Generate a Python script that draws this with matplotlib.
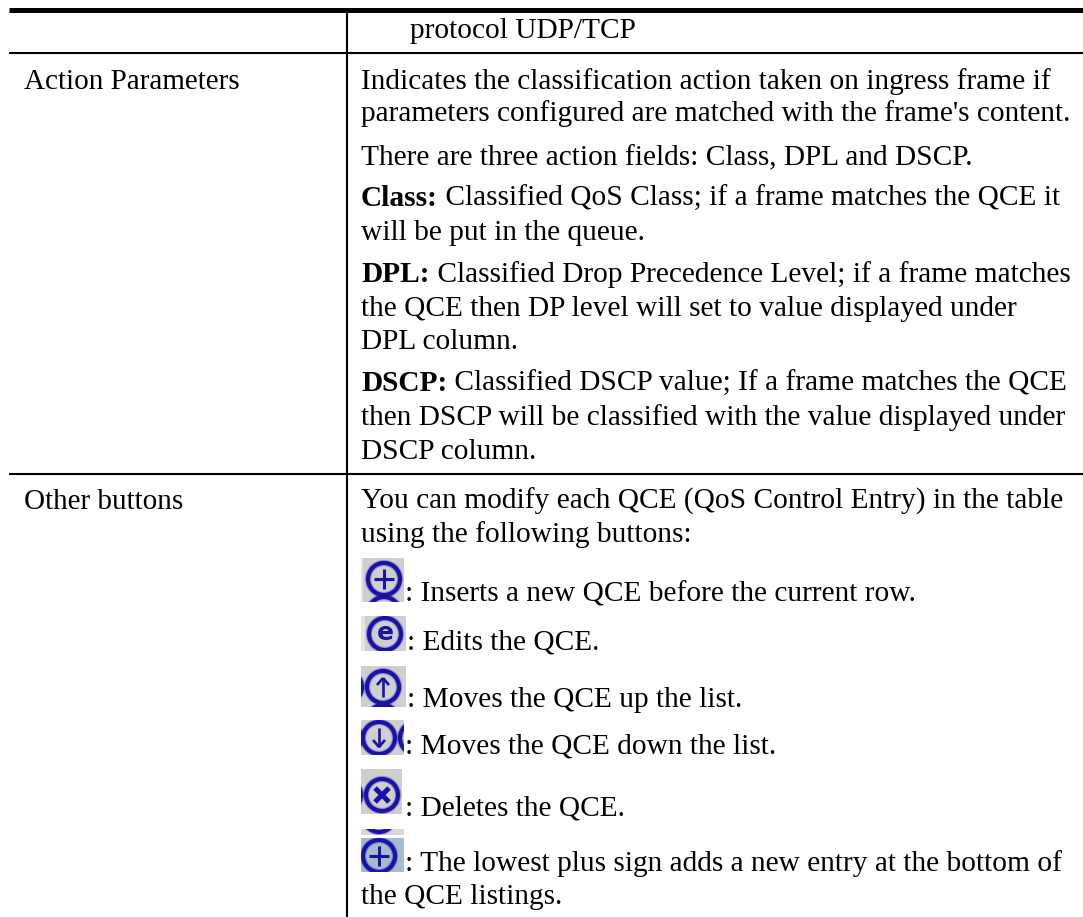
"""Table page recreated as text, rules and small button icons."""

from matplotlib import pyplot as plt
from matplotlib.patches import Circle, Rectangle

WIDTH = 1083
HEIGHT = 917
FONT = "Liberation Serif"
LEFT_SIZE = 21
SIZE = 21.2
TEXT_X = 361
BLUE = "#1a12a8"
GREY = "#cfcfcf"

left_labels = ["Action Parameters", "Other buttons"]
left_y = [89, 509]

plain_lines = [
    ("protocol UDP/TCP", 410, 38),
    ("Indicates the classification action taken on ingress frame if", TEXT_X, 89),
    ("parameters configured are matched with the frame's content.", TEXT_X, 121),
    ("There are three action fields: Class, DPL and DSCP.", TEXT_X, 165),
    ("will be put in the queue.", TEXT_X, 240),
    ("the QCE then DP level will set to value displayed under", TEXT_X, 316),
    ("DPL column.", TEXT_X, 349),
    ("then DSCP will be classified with the value displayed under", TEXT_X, 425),
    ("DSCP column.", TEXT_X, 459),
    ("You can modify each QCE (QoS Control Entry) in the table", TEXT_X, 509),
    ("using the following buttons:", TEXT_X, 542),
    (": Inserts a new QCE before the current row.", 405, 602),
    (": Edits the QCE.", 407, 650),
    (": Moves the QCE up the list.", 407, 707),
    (": Moves the QCE down the list.", 405, 754),
    (": Deletes the QCE.", 405, 815),
    (": The lowest plus sign adds a new entry at the bottom of", 405, 871),
    ("the QCE listings.", TEXT_X, 904),
]
bold_lines = [
    ("Class:", " Classified QoS Class; if a frame matches the QCE it", 206),
    ("DPL:", " Classified Drop Precedence Level; if a frame matches", 282),
    ("DSCP:", " Classified DSCP value; If a frame matches the QCE", 391),
]

# x0, y0, x1, y1, background, circle x, circle y, symbol
icons = [
    (361, 558, 404, 602, GREY, 384, 579, "plus"),
    (361, 616, 406, 651, GREY, 385, 634, "e"),
    (361, 666, 406, 707, GREY, 383, 687, "up"),
    (361, 720, 404, 755, GREY, 379, 738, "down"),
    (361, 769, 402, 814, GREY, 382, 795, "cross"),
    (361, 838, 404, 872, "#a5bccd", 379, 856, "plus"),
]
# extra pieces of neighbouring circles that the crops of the icons keep
icon_arcs = [
    (0, 384, 613),
    (2, 383, 721),
    (2, 346, 687),
    (3, 345, 738),
    (3, 416, 738),
    (4, 345, 795),
]


def draw_ring(ax, cx, cy, clip):
    for width, alpha in ((4.6, 0.3), (3.0, 1.0)):
        ring = Circle((cx, cy), 16, facecolor="none", edgecolor=BLUE, lw=width, alpha=alpha)
        ax.add_patch(ring)
        ring.set_clip_path(clip)


def draw_symbol(ax, kind, cx, cy, clip):
    if kind == "e":
        ax.text(cx, cy - 1, "e", family="DejaVu Sans", weight="bold", fontsize=18,
                color=BLUE, ha="center", va="center")
        return
    if kind == "plus":
        segments = [((cx - 10, cy), (cx + 10, cy)), ((cx, cy - 10), (cx, cy + 10))]
        width = 2.2
    elif kind == "cross":
        segments = [((cx - 7, cy - 7), (cx + 7, cy + 7)), ((cx - 7, cy + 7), (cx + 7, cy - 7))]
        width = 3.6
    elif kind == "up":
        segments = [((cx, cy - 9), (cx, cy + 10)), ((cx - 6, cy - 2), (cx, cy - 9)), ((cx + 6, cy - 2), (cx, cy - 9))]
        width = 1.9
    else:
        segments = [((cx, cy - 10), (cx, cy + 9)), ((cx - 6, cy + 2), (cx, cy + 9)), ((cx + 6, cy + 2), (cx, cy + 9))]
        width = 1.9
    for start, end in segments:
        line, = ax.plot([start[0], end[0]], [start[1], end[1]], color=BLUE, lw=width,
                        solid_capstyle="butt")
        line.set_clip_path(clip)


fig = plt.figure(figsize=(WIDTH / 100, HEIGHT / 100), dpi=100)
ax = fig.add_axes((0, 0, 1, 1))
ax.set_xlim(0, WIDTH)
ax.set_ylim(HEIGHT, 0)
ax.axis("off")

ax.plot([9, 1083], [9.5, 9.5], color="black", lw=3.6, solid_capstyle="butt")
ax.plot([9, 1083], [52.5, 52.5], color="black", lw=1.5, solid_capstyle="butt")
ax.plot([9, 1083], [474, 474], color="black", lw=1.5, solid_capstyle="butt")
ax.plot([347, 347], [9, 917], color="black", lw=1.5, solid_capstyle="butt")

for label, y in zip(left_labels, left_y):
    ax.text(24, y, label, family=FONT, fontsize=LEFT_SIZE, va="baseline", ha="left")
for text, x, y in plain_lines:
    ax.text(x, y, text, family=FONT, fontsize=SIZE, va="baseline", ha="left")

fig.canvas.draw()
renderer = fig.canvas.get_renderer()
for head, rest, y in bold_lines:
    t = ax.text(TEXT_X, y, head, family=FONT, fontsize=SIZE, weight="bold",
                va="baseline", ha="left")
    x1 = ax.transData.inverted().transform(t.get_window_extent(renderer))[1][0]
    ax.text(x1, y, rest, family=FONT, fontsize=SIZE, va="baseline", ha="left")

# icons
backgrounds = []
for x0, y0, x1, y1, color, cx, cy, kind in icons:
    box = Rectangle((x0, y0), x1 - x0, y1 - y0, facecolor=color, edgecolor="none")
    ax.add_patch(box)
    backgrounds.append(box)
    draw_ring(ax, cx, cy, box)
    draw_symbol(ax, kind, cx, cy, box)

for index, cx, cy in icon_arcs:
    draw_ring(ax, cx, cy, backgrounds[index])

# pale strips on the left of the first two icons
ax.add_patch(Rectangle((361, 558), 2, 44, facecolor="#e4e4e4", edgecolor="none"))
ax.add_patch(Rectangle((361, 616), 4, 35, facecolor="#e4e4e4", edgecolor="none"))

# slice of another icon above the last one
strip = Rectangle((361, 829), 43, 6, facecolor="#d8d8d8", edgecolor="none")
ax.add_patch(strip)
draw_ring(ax, 379, 816, strip)

fig.savefig("out.png", dpi=100)
